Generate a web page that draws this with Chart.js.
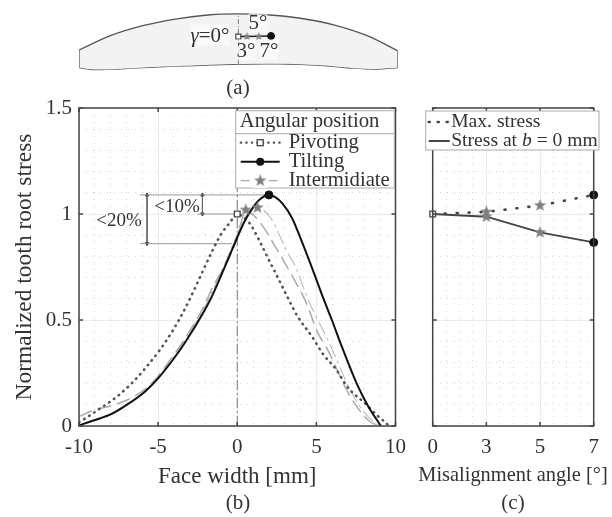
<!DOCTYPE html>
<html>
<head>
<meta charset="utf-8">
<script src="https://cdn.jsdelivr.net/npm/chart.js@4"></script>
<style>
html, body { margin: 0; padding: 0; background: #fff; }
#page { position: relative; width: 612px; height: 517px; overflow: hidden; font-family: "Liberation Serif", serif; color: #333; filter: blur(0.3px); }
canvas { position: absolute; }
.lbl { position: absolute; transform: translate(-50%, -50%); white-space: nowrap; line-height: 1; }
</style>
</head>
<body>
<div id="page">
	<canvas id="toothChart" width="612" height="80" style="left:0;top:0"></canvas>
	<canvas id="faceChart" width="415" height="517" style="left:0;top:0"></canvas>
	<canvas id="angleChart" width="197" height="517" style="left:415px;top:0"></canvas>
</div>
<script>
// tick labels
const faceTicks = [-10, -5, 0, 5, 10];
const stressTicks = [0, 0.5, 1, 1.5];
const angleTicks = ["0", "3", "5", "7"];

// panel (b) curves
const pivotX = [-10, -9.6, -8.66, -7.61, -6.57, -5.73, -4.9, -4.16, -3.43, -2.8, -2.18, -1.55, -1.02, -0.5, 0, 0.4, 0.86, 1.38, 2, 2.64, 3.16, 3.79, 4.73, 5.46, 6.2, 7.03, 8.08, 8.81, 9.37, 9.6];
const pivotY = [0.018, 0.036, 0.083, 0.138, 0.209, 0.28, 0.358, 0.44, 0.535, 0.63, 0.73, 0.83, 0.905, 0.956, 1, 0.985, 0.948, 0.877, 0.783, 0.689, 0.61, 0.52, 0.421, 0.335, 0.272, 0.178, 0.107, 0.052, 0.016, 0];
const tiltX = [-10, -9, -7.93, -6.89, -5.84, -5, -4.16, -3.33, -2.07, -1.55, -0.82, -0.08, 0.44, 0.75, 1.38, 2, 2.4, 2.85, 3.47, 4, 4.73, 5.46, 5.98, 6.61, 7.55, 8.29, 9.08];
const tiltY = [0.003, 0.028, 0.057, 0.104, 0.162, 0.225, 0.303, 0.39, 0.545, 0.62, 0.745, 0.875, 0.962, 1.003, 1.066, 1.09, 1.08, 1.05, 0.98, 0.885, 0.745, 0.598, 0.5, 0.374, 0.2, 0.091, 0];
const int3X = [-10, -9.08, -8, -6.9, -5.8, -5, -4.16, -3.33, -2.07, -1.55, -0.29, 0.23, 0.54, 1, 1.49, 2.53, 3.58, 4.31, 5.15, 5.57, 7.03, 7.87, 8.39, 9.02];
const int3Y = [0.044, 0.075, 0.095, 0.125, 0.175, 0.235, 0.32, 0.41, 0.57, 0.655, 0.83, 0.956, 1.019, 0.995, 0.956, 0.83, 0.693, 0.59, 0.43, 0.38, 0.154, 0.06, 0.02, 0];
const int5X = [-10, -9, -7.93, -6.89, -5.84, -5, -4.16, -3.33, -2.07, -1.55, -0.82, -0.08, 0.44, 1.28, 2.12, 2.95, 3.26, 3.68, 4.41, 4.83, 5.78, 6.61, 7.03, 7.76, 8.6, 9.08];
const int5Y = [0.005, 0.03, 0.06, 0.107, 0.165, 0.23, 0.31, 0.4, 0.56, 0.64, 0.76, 0.89, 0.98, 1.03, 0.98, 0.854, 0.807, 0.751, 0.61, 0.539, 0.398, 0.256, 0.185, 0.091, 0.02, 0];

// panel (b) markers
const peakPivot = [0, 1];
const peakTilt = [2, 1.09];
const peakStarX = [0.54, 1.28];
const peakStarY = [1.019, 1.03];

// panel (b) dimension lines
const level109X = [-6.15, 2];
const level100X = [-2.5, 0];
const level086X = [-6.15, -0.3];
const arrow20X = -5.7;
const arrow10X = -2.2;
const arrowY109 = 1.09;
const arrowY100 = 1;
const arrowY086 = 0.86;

// panel (c), x is the position of the angle in angleTicks
const anglePos = [0, 1, 2, 3];
const maxStress = [1, 1.01, 1.04, 1.09];
const stressAtZero = [1, 0.987, 0.913, 0.866];

// panel (a) tooth outline, mm
const toothTopX = [-10, -8.03, -5.94, -3.85, -1.76, 0, 1.8, 3.89, 5.98, 8.08, 10];
const toothTopY = [1.78, 2.82, 3.56, 4.04, 4.33, 4.39, 4.33, 4.08, 3.6, 2.82, 1.74];
const toothBotX = [-10, -9.08, -7.6, -5.3, -2.8, 0, 2.43, 5.15, 7.24, 8.7, 10];
const toothBotY = [0.52, 0.38, 0.42, 0.56, 0.67, 0.77, 0.79, 0.69, 0.48, 0.42, 0.52];
const contactX = [0, 0.54, 1.28, 2.05];
const contactY = [2.76, 2.76, 2.78, 2.8];

const FONT = '"Liberation Serif", serif';
const TEXT = "#333";
const FRAME = "#444";

function pts(xs, ys) {
	return xs.map((x, i) => ({ x: x, y: ys[i] }));
}

// filled five point star used as pointStyle
function starImage(size, color) {
	const c = document.createElement("canvas");
	c.width = size;
	c.height = size;
	const g = c.getContext("2d");
	g.fillStyle = color;
	g.beginPath();
	for (let i = 0; i < 10; i++) {
		const r = i % 2 ? size * 0.21 : size * 0.5;
		const a = -Math.PI / 2 + i * Math.PI / 5;
		g.lineTo(size / 2 + r * Math.cos(a), size / 2 + r * Math.sin(a));
	}
	g.closePath();
	g.fill();
	return c;
}
const star = starImage(13, "#808080");

// frame and inward major ticks
function framePlugin(xMajors, yMajors) {
	return {
		id: "frame",
		afterDatasetsDraw(chart) {
			const a = chart.chartArea;
			const c = chart.ctx;
			c.save();
			c.strokeStyle = FRAME;
			c.lineWidth = 1.5;
			c.strokeRect(a.left, a.top, a.right - a.left, a.bottom - a.top);
			c.beginPath();
			xMajors.forEach((v) => {
				const p = chart.scales.x.getPixelForValue(v);
				c.moveTo(p, a.top); c.lineTo(p, a.top + 4);
				c.moveTo(p, a.bottom); c.lineTo(p, a.bottom - 4);
			});
			yMajors.forEach((v) => {
				const p = chart.scales.y.getPixelForValue(v);
				c.moveTo(a.left, p); c.lineTo(a.left + 4, p);
				c.moveTo(a.right, p); c.lineTo(a.right - 4, p);
			});
			c.stroke();
			c.restore();
		}
	};
}

function gridOpts(isMajor) {
	return {
		drawTicks: false,
		color: (ctx) => isMajor(ctx.tick.value) ? "#ebebeb" : "#cccccc",
		lineWidth: (ctx) => isMajor(ctx.tick.value) ? 1 : 0.8
	};
}
function borderOpts(isMajor) {
	return {
		display: false,
		dash: (ctx) => isMajor(ctx.tick.value) ? [] : [1, 6]
	};
}
const stressMajor = (v) => Math.round(v * 10) % 5 === 0;

function yAxis(width, showLabels, title) {
	return {
		type: "linear",
		min: 0,
		max: 1.5,
		afterFit: (s) => { s.width = width; },
		grid: gridOpts(stressMajor),
		border: borderOpts(stressMajor),
		title: title ? { display: true, text: title, color: TEXT, font: { family: FONT, size: 23.5 }, padding: { top: 11, bottom: 0 } } : { display: false },
		ticks: {
			stepSize: 0.1,
			autoSkip: false,
			padding: 7,
			color: TEXT,
			font: { family: FONT, size: 21 },
			callback: (v) => (showLabels && stressTicks.includes(Math.round(v * 10) / 10)) ? String(Math.round(v * 10) / 10) : ""
		}
	};
}

// legend box drawn over the plot, text stays canvas text
function legendPlugin(cfg) {
	return {
		id: "boxLegend",
		afterDraw(chart) {
			const c = chart.ctx;
			c.save();
			c.fillStyle = "#fff";
			c.strokeStyle = "#aaa";
			c.lineWidth = 1;
			c.fillRect(cfg.x, cfg.y, cfg.w, cfg.h);
			c.strokeRect(cfg.x, cfg.y, cfg.w, cfg.h);
			c.fillStyle = TEXT;
			c.textBaseline = "middle";
			c.font = "20.7px " + FONT;
			if (cfg.title) {
				c.fillText(cfg.title, cfg.x + 4, cfg.y + 11);
				c.beginPath();
				c.moveTo(cfg.x, cfg.y + 23);
				c.lineTo(cfg.x + cfg.w, cfg.y + 23);
				c.stroke();
			}
			cfg.rows.forEach((r) => {
				c.save();
				c.strokeStyle = r.color;
				c.lineWidth = r.width;
				c.lineCap = r.cap || "butt";
				c.setLineDash(r.dash || []);
				c.beginPath();
				c.moveTo(cfg.x + cfg.sampleL, r.y);
				c.lineTo(cfg.x + cfg.sampleR, r.y);
				c.stroke();
				c.restore();
				const mid = cfg.x + (cfg.sampleL + cfg.sampleR) / 2;
				if (r.marker === "square") {
					c.fillStyle = "#fff";
					c.strokeStyle = FRAME;
					c.lineWidth = 1.3;
					c.fillRect(mid - 3, r.y - 3, 6, 6);
					c.strokeRect(mid - 3, r.y - 3, 6, 6);
				} else if (r.marker === "circle") {
					c.fillStyle = "#111";
					c.beginPath();
					c.arc(mid, r.y, 4, 0, Math.PI * 2);
					c.fill();
				} else if (r.marker === "star") {
					c.fillStyle = "#fff";
					c.fillRect(mid - 7, r.y - 7, 14, 14);
					c.drawImage(star, mid - 6.5, r.y - 6.5);
				}
				let tx = cfg.x + cfg.textX;
				r.parts.forEach((p) => {
					c.fillStyle = TEXT;
					c.font = (p.i ? "italic " : "") + cfg.size + "px " + FONT;
					c.fillText(p.t, tx, r.y);
					tx += c.measureText(p.t).width;
				});
			});
			c.restore();
		}
	};
}

// (a) tooth sketch
new Chart(document.getElementById("toothChart"), {
	type: "scatter",
	data: {
		datasets: [
			{ data: pts(contactX.slice(3), contactY.slice(3)), pointStyle: "circle", pointRadius: 3.5, backgroundColor: "#111", borderColor: "#111" },
			{ data: pts(contactX.slice(1, 3), contactY.slice(1, 3)), pointStyle: starImage(9, "#808080") },
			{ data: pts(contactX.slice(0, 1), contactY.slice(0, 1)), pointStyle: "rect", pointRadius: 3.5, backgroundColor: "#fff", borderColor: FRAME, borderWidth: 1.2 },
			{ data: pts(contactX, contactY), showLine: true, borderColor: "#222", borderWidth: 1.4, pointRadius: 0 },
			{ data: pts([0, 0], [toothBotY[5], toothTopY[5]]), showLine: true, borderColor: "#777", borderWidth: 1, borderDash: [5, 2, 1, 2], pointRadius: 0 },
			{ data: pts([toothTopX[0], toothBotX[0]], [toothTopY[0], toothBotY[0]]), showLine: true, borderColor: "#555", borderWidth: 1.3, pointRadius: 0 },
			{ data: pts([toothTopX[10], toothBotX[10]], [toothTopY[10], toothBotY[10]]), showLine: true, borderColor: "#555", borderWidth: 1.3, pointRadius: 0 },
			{ data: pts(toothTopX, toothTopY), showLine: true, tension: 0.3, borderColor: "#555", borderWidth: 1.3, pointRadius: 0, fill: "+1", backgroundColor: "#f3f3f3" },
			{ data: pts(toothBotX, toothBotY), showLine: true, tension: 0.3, borderColor: "#555", borderWidth: 1.3, pointRadius: 0 }
		]
	},
	options: {
		responsive: false,
		animation: false,
		layout: { padding: { left: 79, right: 214.3, top: 0, bottom: 0 } },
		plugins: { legend: { display: false }, tooltip: { enabled: false } },
		scales: {
			x: { type: "linear", min: -10, max: 10, display: false },
			y: { type: "linear", min: 0, max: 5.02, display: false }
		}
	}
});

// (b) face width
new Chart(document.getElementById("faceChart"), {
	type: "scatter",
	data: {
		datasets: [
			{ data: pts([peakPivot[0]], [peakPivot[1]]), pointStyle: "rect", pointRadius: 4, backgroundColor: "#fff", borderColor: FRAME, borderWidth: 1.3, clip: false },
			{ data: pts([peakTilt[0]], [peakTilt[1]]), pointStyle: "circle", pointRadius: 4, backgroundColor: "#111", borderColor: "#111", clip: false },
			{ data: pts(peakStarX, peakStarY), pointStyle: star, clip: false },
			{ data: pts(tiltX, tiltY), showLine: true, cubicInterpolationMode: "monotone", borderColor: "#111", borderWidth: 2, pointRadius: 0 },
			{ data: pts(pivotX, pivotY), showLine: true, cubicInterpolationMode: "monotone", borderColor: "#555", borderWidth: 2.6, borderDash: [0.5, 5.5], borderCapStyle: "round", pointRadius: 0 },
			{ data: pts(int3X, int3Y), showLine: true, cubicInterpolationMode: "monotone", borderColor: "#aaa", borderWidth: 1.5, borderDash: [14, 6], pointRadius: 0 },
			{ data: pts(int5X, int5Y), showLine: true, cubicInterpolationMode: "monotone", borderColor: "#bbb", borderWidth: 1.1, borderDash: [14, 4, 3, 4], pointRadius: 0 },
			{ data: pts([0, 0], [0, 1.5]), showLine: true, borderColor: "#777", borderWidth: 1, borderDash: [10, 3, 2, 3], pointRadius: 0 },
			{ data: pts(level109X, [arrowY109, arrowY109]), showLine: true, borderColor: "#999", borderWidth: 1, pointRadius: 0 },
			{ data: pts(level100X, [arrowY100, arrowY100]), showLine: true, borderColor: "#999", borderWidth: 1, pointRadius: 0 },
			{ data: pts(level086X, [arrowY086, arrowY086]), showLine: true, borderColor: "#999", borderWidth: 1, pointRadius: 0 },
			{ data: pts([arrow20X, arrow20X], [arrowY109, arrowY086]), showLine: true, borderColor: "#666", borderWidth: 1, pointStyle: "triangle", pointRadius: 2, pointRotation: [0, 180], backgroundColor: "#333", pointBorderColor: "#333" },
			{ data: pts([arrow10X, arrow10X], [arrowY109, arrowY100]), showLine: true, borderColor: "#666", borderWidth: 1, pointStyle: "triangle", pointRadius: 2, pointRotation: [0, 180], backgroundColor: "#333", pointBorderColor: "#333" }
		]
	},
	options: {
		responsive: false,
		animation: false,
		layout: { padding: { left: 0, right: 17.3, top: 108, bottom: 0 } },
		plugins: { legend: { display: false }, tooltip: { enabled: false } },
		scales: {
			x: {
				type: "linear",
				min: -10,
				max: 10,
				afterFit: (s) => { s.height = 91; },
				grid: gridOpts((v) => v % 5 === 0),
				border: borderOpts((v) => v % 5 === 0),
				title: { display: true, text: "Face width [mm]", color: TEXT, font: { family: FONT, size: 23 }, padding: { top: 0, bottom: 26 } },
				ticks: {
					stepSize: 1,
					autoSkip: false,
					maxRotation: 0,
					padding: 9,
					color: TEXT,
					font: { family: FONT, size: 21 },
					callback: (v) => faceTicks.includes(v) ? String(v) : ""
				}
			},
			y: yAxis(79, true, "Normalized tooth root stress")
		}
	},
	plugins: [
		framePlugin(faceTicks, stressTicks),
		legendPlugin({
			x: 235.7, y: 110.7, w: 158.6, h: 77.3, title: "Angular position",
			sampleL: 5, sampleR: 44, textX: 53, size: 20.7,
			rows: [
				{ y: 142.7, color: "#555", width: 2.2, dash: [0.5, 5], cap: "round", marker: "square", parts: [{ t: "Pivoting" }] },
				{ y: 161.7, color: "#111", width: 2, marker: "circle", parts: [{ t: "Tilting" }] },
				{ y: 180.7, color: "#aaa", width: 1.3, dash: [9, 5], marker: "star", parts: [{ t: "Intermidiate" }] }
			]
		})
	]
});

// (c) misalignment angle
new Chart(document.getElementById("angleChart"), {
	type: "scatter",
	data: {
		datasets: [
			{ data: pts([anglePos[0]], [maxStress[0]]), pointStyle: "rect", pointRadius: 4, backgroundColor: "#fff", borderColor: FRAME, borderWidth: 1.3, clip: false },
			{ data: pts(anglePos.slice(3), maxStress.slice(3)).concat(pts(anglePos.slice(3), stressAtZero.slice(3))), pointStyle: "circle", pointRadius: 4, backgroundColor: "#111", borderColor: "#111", clip: false },
			{ data: pts(anglePos.slice(1, 3), maxStress.slice(1, 3)).concat(pts(anglePos.slice(1, 3), stressAtZero.slice(1, 3))), pointStyle: star, clip: false },
			{ data: pts(anglePos, maxStress), showLine: true, borderColor: "#444", borderWidth: 2.6, borderDash: [1, 11], borderCapStyle: "round", pointRadius: 0 },
			{ data: pts(anglePos, stressAtZero), showLine: true, borderColor: "#444", borderWidth: 1.8, pointRadius: 0 }
		]
	},
	options: {
		responsive: false,
		animation: false,
		layout: { padding: { left: 17.7, right: 18.3, top: 108, bottom: 0 } },
		plugins: { legend: { display: false }, tooltip: { enabled: false } },
		scales: {
			x: {
				type: "linear",
				min: 0,
				max: 3,
				afterFit: (s) => { s.height = 91; },
				grid: gridOpts((v) => Number.isInteger(v)),
				border: borderOpts((v) => Number.isInteger(v)),
				ticks: {
					stepSize: 0.25,
					autoSkip: false,
					maxRotation: 0,
					padding: 9,
					color: TEXT,
					font: { family: FONT, size: 21 },
					callback: (v) => Number.isInteger(v) ? angleTicks[v] : ""
				}
			},
			y: yAxis(0, false, null)
		}
	},
	plugins: [
		framePlugin(anglePos, stressTicks),
		legendPlugin({
			x: 10.7, y: 111, w: 173.3, h: 39,
			sampleL: 3, sampleR: 24, textX: 25.5, size: 19.6,
			rows: [
				{ y: 122, color: "#444", width: 2.6, dash: [1, 8], cap: "round", parts: [{ t: "Max. stress" }] },
				{ y: 141, color: "#444", width: 2, parts: [{ t: "Stress at " }, { t: "b", i: true }, { t: " = 0 mm" }] }
			]
		})
	]
});

// free text
const freeText = [
	{ h: "(a)", x: 238, y: 87, s: 21 },
	{ h: "(b)", x: 238, y: 502, s: 21 },
	{ h: "(c)", x: 513, y: 502, s: 21 },
	{ h: "Misalignment angle [°]", x: 513, y: 474, s: 20.4 },
	{ h: "<i>γ</i>=0°", x: 210, y: 35, s: 21, bg: 1 },
	{ h: "5°", x: 258, y: 22, s: 21, bg: 1 },
	{ h: "3°", x: 246, y: 50, s: 21, bg: 1 },
	{ h: "7°", x: 269, y: 50, s: 21, bg: 1 },
	{ h: "&lt;10%", x: 177, y: 205, s: 19 },
	{ h: "&lt;20%", x: 119, y: 219, s: 19 }
];
freeText.forEach((t) => {
	const d = document.createElement("div");
	d.className = "lbl";
	d.innerHTML = t.h;
	d.style.left = t.x + "px";
	d.style.top = t.y + "px";
	d.style.fontSize = t.s + "px";
	if (t.bg) d.style.background = "rgba(255,255,255,0.6)";
	document.getElementById("page").appendChild(d);
});
</script>
</body>
</html>
